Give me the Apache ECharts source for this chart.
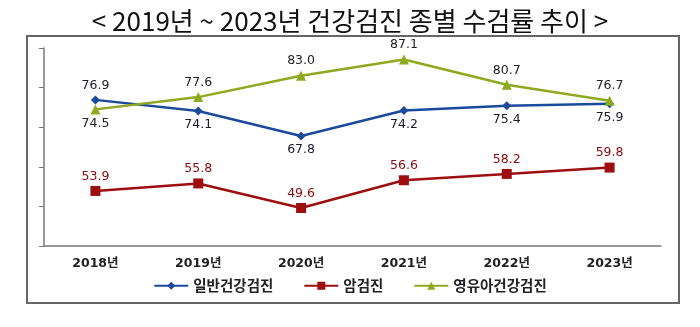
<!DOCTYPE html>
<html><head><meta charset="utf-8">
<script src="https://cdn.jsdelivr.net/npm/echarts@6/dist/echarts.min.js"></script>
<style>html,body{margin:0;padding:0;background:#fff}#c{width:700px;height:327px}</style>
</head><body><div id="c"></div>
<script>
const categories = ['2018년','2019년','2020년','2021년','2022년','2023년'];
const general = [76.9, 74.1, 67.8, 74.2, 75.4, 75.9];
const cancer = [53.9, 55.8, 49.6, 56.6, 58.2, 59.8];
const infant = [74.5, 77.6, 83.0, 87.1, 80.7, 76.7];
const generalLabelPos = ['top','bottom','bottom','bottom','bottom','bottom'];
const infantLabelPos = ['bottom','top','top','top','top','top'];
const seriesNames = ['일반건강검진','암검진','영유아건강검진'];

const chart = echarts.init(document.getElementById('c'), null, {renderer:'canvas'});
const lblFont = {fontFamily:'DejaVu Sans', fontSize:12.5, distance:3, formatter:p=>Number(p.value).toFixed(1)};
function withPos(vals, pos){ return vals.map((v,i)=>({value:v, label:{position:pos[i]}})); }
chart.setOption({
  animation:false,
  title:{text:'< 2019년 ~ 2023년 건강검진 종별 수검률 추이 >', left:'center', top:3,
    textStyle:{fontFamily:'Noto Sans CJK KR', fontWeight:'normal', fontSize:26, color:'#111'}},
  graphic:[{type:'rect', shape:{x:27,y:36,width:652,height:267}, style:{fill:'none', stroke:'#666', lineWidth:2}, z:-1}],
  grid:{left:44, right:39, top:48, bottom:81},
  legend:{bottom:29, left:'center', itemGap:30, itemWidth:34, itemHeight:10,
    textStyle:{fontFamily:'Noto Sans CJK KR', fontSize:14.5, fontWeight:'bold', color:'#222'},
    data:seriesNames},
  xAxis:{type:'category', data:categories, boundaryGap:true,
    axisLine:{lineStyle:{color:'#777', width:1.5}},
    axisTick:{length:4, lineStyle:{color:'#777'}},
    axisLabel:{fontFamily:'DejaVu Sans, Noto Sans CJK KR', fontWeight:'bold', fontSize:12.5, color:'#222', margin:11}},
  yAxis:{type:'value', min:40, max:90, interval:10,
    axisLine:{show:true, lineStyle:{color:'#777', width:1.5}},
    axisTick:{show:true, length:5, lineStyle:{color:'#777'}},
    axisLabel:{show:false}, splitLine:{show:false}},
  series:[
    {name:seriesNames[0], type:'line', data:withPos(general, generalLabelPos), symbol:'diamond', symbolSize:9,
      lineStyle:{color:'#1A4A9C', width:2.5}, itemStyle:{color:'#1A4A9C'},
      label:Object.assign({show:true, color:'#1a1a2a'}, lblFont)},
    {name:seriesNames[1], type:'line', data:cancer, symbol:'rect', symbolSize:10,
      lineStyle:{color:'#9E0E0E', width:2.5}, itemStyle:{color:'#9E0E0E'},
      label:Object.assign({show:true, position:'top', color:'#8B0A0A'}, lblFont)},
    {name:seriesNames[2], type:'line', data:withPos(infant, infantLabelPos), symbol:'triangle', symbolSize:10,
      lineStyle:{color:'#8DAA1E', width:2.5}, itemStyle:{color:'#8DAA1E'},
      label:Object.assign({show:true, color:'#222'}, lblFont)}
  ]
});
</script></body></html>
